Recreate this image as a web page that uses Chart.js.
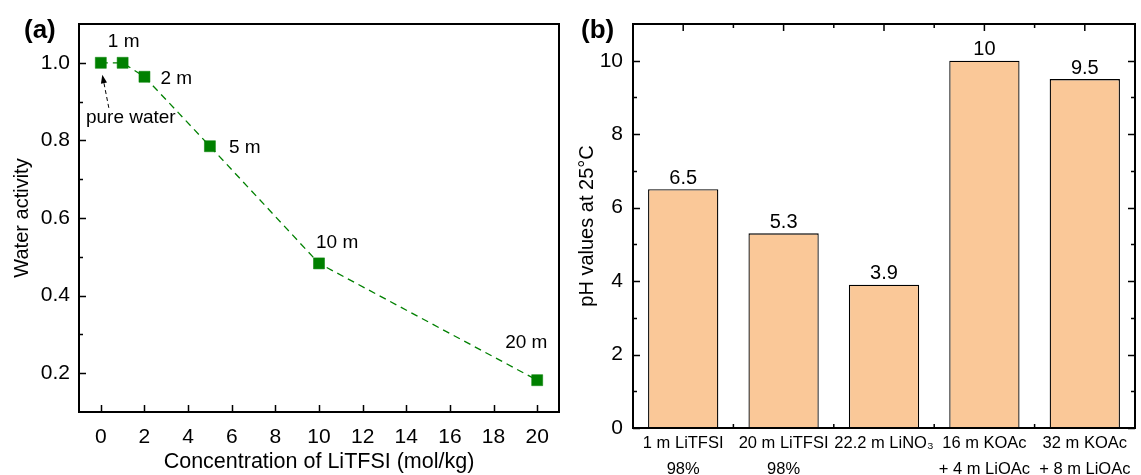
<!DOCTYPE html>
<html>
<head>
<meta charset="utf-8">
<script src="https://cdn.jsdelivr.net/npm/chart.js@4.4.1/dist/chart.umd.min.js"></script>
<style>
    html, body { margin: 0; padding: 0; background: #fff; }
    #wrap { position: relative; width: 1141px; height: 475px; overflow: hidden; }
    canvas { position: absolute; top: 0; }
    #chartA { left: 0; }
    #chartB { left: 570px; }
    .tag { position: absolute; top: 14px; line-height: 28px; font: bold 26px "Liberation Sans", Arial, sans-serif; color: #000; }
</style>
</head>
<body>
<div id="wrap">
    <canvas id="chartA" width="570" height="475"></canvas>
    <canvas id="chartB" width="571" height="475"></canvas>
    <div class="tag" style="left:24px">(a)</div>
    <div class="tag" style="left:581px">(b)</div>
</div>
<script>
const FONT = '"Liberation Sans", Arial, sans-serif';

// panel (a): water activity vs concentration
const concX = [0, 1, 2, 5, 10, 20];
const waterActivity = [1.0, 1.0, 0.964, 0.785, 0.483, 0.182];
const pointTags = ['', '1 m', '2 m', '5 m', '10 m', '20 m'];
const xTicksA = [0, 2, 4, 6, 8, 10, 12, 14, 16, 18, 20];
const yTicksA = [0.2, 0.4, 0.6, 0.8, 1.0];
const yMinorA = [0.3, 0.5, 0.7, 0.9];

// panel (b): pH of the electrolytes
const phCats = [
    ['1 m LiTFSI', '98%'],
    ['20 m LiTFSI', '98%'],
    ['22.2 m LiNO₃'],
    ['16 m KOAc', '+ 4 m LiOAc'],
    ['32 m KOAc', '+ 8 m LiOAc']
];
const phValues = [6.5, 5.3, 3.9, 10, 9.5];
const yTicksB = [0, 2, 4, 6, 8, 10];
const yMinorB = [1, 3, 5, 7, 9];

Chart.defaults.font.family = FONT;
Chart.defaults.color = '#000';

//рамка і внутрішні мітки для (a)
const frameA = {
    id: 'frameA',
    afterDatasetsDraw(chart) {
        const { ctx, chartArea: a, scales: { x, y } } = chart;
        ctx.save();
        ctx.strokeStyle = '#000';
        ctx.lineWidth = 1.5;
        ctx.beginPath();
        xTicksA.forEach(v => {
            const p = Math.round(x.getPixelForValue(v)) + 0.5;
            ctx.moveTo(p, a.bottom); ctx.lineTo(p, a.bottom - 7);
        });
        yTicksA.forEach(v => {
            const p = Math.round(y.getPixelForValue(v)) + 0.5;
            ctx.moveTo(a.left, p); ctx.lineTo(a.left + 7, p);
        });
        yMinorA.forEach(v => {
            const p = Math.round(y.getPixelForValue(v)) + 0.5;
            ctx.moveTo(a.left, p); ctx.lineTo(a.left + 4, p);
        });
        ctx.stroke();
        ctx.lineWidth = 2;
        ctx.strokeRect(a.left, a.top, a.right - a.left, a.bottom - a.top);

        //підписи біля точок
        const pts = chart.getDatasetMeta(0).data;
        const place = { 1: [1, -21, 'center'], 2: [16, 2, 'left'], 3: [19, 2, 'left'], 4: [-3, -21, 'left'], 5: [-32, -37, 'left'] };
        ctx.fillStyle = '#000';
        ctx.font = '19px ' + FONT;
        ctx.textBaseline = 'middle';
        pointTags.forEach((t, i) => {
            if (!t) return;
            const [dx, dy, al] = place[i];
            ctx.textAlign = al;
            ctx.fillText(t, pts[i].x + dx, pts[i].y + dy);
        });

        //pure water + пунктирна стрілка
        const p0 = pts[0];
        ctx.textAlign = 'center';
        ctx.fillText('pure water', p0.x + 30, p0.y + 55);
        const tx = p0.x + 1.5, ty = p0.y + 12;
        const sx = p0.x + 8, sy = p0.y + 45;
        const ang = Math.atan2(ty - sy, tx - sx);
        ctx.lineWidth = 1;
        ctx.setLineDash([4, 3]);
        ctx.beginPath();
        ctx.moveTo(sx, sy);
        ctx.lineTo(tx - 7 * Math.cos(ang), ty - 7 * Math.sin(ang));
        ctx.stroke();
        ctx.setLineDash([]);
        ctx.beginPath();
        ctx.moveTo(tx, ty);
        ctx.lineTo(tx - 9 * Math.cos(ang - 0.35), ty - 9 * Math.sin(ang - 0.35));
        ctx.lineTo(tx - 9 * Math.cos(ang + 0.35), ty - 9 * Math.sin(ang + 0.35));
        ctx.closePath();
        ctx.fill();
        ctx.restore();
    }
};

//мітки осей для (b) - під стовпчиками
const ticksB = {
    id: 'ticksB',
    beforeDatasetsDraw(chart) {
        const { ctx, chartArea: a, scales: { x, y } } = chart;
        ctx.save();
        ctx.strokeStyle = '#000';
        ctx.lineWidth = 1.5;
        ctx.beginPath();
        yTicksB.forEach(v => {
            const p = Math.round(y.getPixelForValue(v)) + 0.5;
            ctx.moveTo(a.left, p); ctx.lineTo(a.left + 7, p);
            ctx.moveTo(a.right, p); ctx.lineTo(a.right - 7, p);
        });
        yMinorB.forEach(v => {
            const p = Math.round(y.getPixelForValue(v)) + 0.5;
            ctx.moveTo(a.left, p); ctx.lineTo(a.left + 4, p);
            ctx.moveTo(a.right, p); ctx.lineTo(a.right - 4, p);
        });
        phCats.forEach((c, i) => {
            const p = x.getPixelForValue(i);
            ctx.moveTo(p, a.top); ctx.lineTo(p, a.top + 7);
            ctx.moveTo(p, a.bottom); ctx.lineTo(p, a.bottom - 7);
            if (i < phCats.length - 1) {
                const m = (p + x.getPixelForValue(i + 1)) / 2;
                ctx.moveTo(m, a.top); ctx.lineTo(m, a.top + 4);
                ctx.moveTo(m, a.bottom); ctx.lineTo(m, a.bottom - 4);
            }
        });
        ctx.stroke();
        ctx.restore();
    },
    afterDatasetsDraw(chart) {
        const { ctx, chartArea: a } = chart;
        ctx.save();
        ctx.strokeStyle = '#000';
        ctx.lineWidth = 2;
        ctx.strokeRect(a.left, a.top, a.right - a.left, a.bottom - a.top);
        //значення над стовпчиками
        ctx.fillStyle = '#000';
        ctx.font = '20px ' + FONT;
        ctx.textAlign = 'center';
        ctx.textBaseline = 'middle';
        chart.getDatasetMeta(0).data.forEach((bar, i) => {
            ctx.fillText(String(phValues[i]), bar.x, bar.y - 11);
        });
        ctx.restore();
    }
};

new Chart(document.getElementById('chartA'), {
    type: 'line',
    data: {
        datasets: [{
            data: concX.map((x, i) => ({ x, y: waterActivity[i] })),
            borderColor: '#008000',
            borderWidth: 1.3,
            borderDash: [7, 5],
            pointStyle: 'rect',
            pointRadius: 7.8,
            pointBackgroundColor: '#008000',
            pointBorderColor: '#008000',
            pointBorderWidth: 0.5,
            tension: 0
        }]
    },
    options: {
        responsive: false,
        animation: false,
        devicePixelRatio: 1,
        layout: { padding: { left: 0, right: 11, top: 24, bottom: 0 } },
        plugins: { legend: { display: false }, tooltip: { enabled: false } },
        scales: {
            x: {
                type: 'linear',
                min: -1,
                max: 21,
                afterBuildTicks: s => { s.ticks = xTicksA.map(v => ({ value: v })); },
                afterFit: s => { s.height = 63; },
                grid: { display: false, drawTicks: false },
                border: { display: false },
                ticks: { font: { size: 21 }, padding: 13, maxRotation: 0, autoSkip: false },
                title: { display: true, text: 'Concentration of LiTFSI (mol/kg)', font: { size: 21.5 }, padding: { top: 0, bottom: 0 } }
            },
            y: {
                min: 0.1,
                max: 1.1,
                afterBuildTicks: s => { s.ticks = yTicksA.map(v => ({ value: v })); },
                afterFit: s => { s.width = 79; },
                grid: { display: false, drawTicks: false },
                border: { display: false },
                ticks: { font: { size: 21 }, padding: 9, callback: v => v.toFixed(1) },
                title: { display: true, text: 'Water activity', font: { size: 20 }, padding: { top: 10, bottom: 0 } }
            }
        }
    },
    plugins: [frameA]
});

new Chart(document.getElementById('chartB'), {
    type: 'bar',
    data: {
        labels: phCats,
        datasets: [{
            data: phValues,
            backgroundColor: '#FAC898',
            borderColor: '#000',
            borderWidth: 1.3,
            barPercentage: 0.7,
            categoryPercentage: 1.0
        }]
    },
    options: {
        responsive: false,
        animation: false,
        devicePixelRatio: 1,
        layout: { padding: { left: 0, right: 6, top: 24, bottom: 0 } },
        plugins: { legend: { display: false }, tooltip: { enabled: false } },
        scales: {
            x: {
                afterFit: s => { s.height = 47; },
                grid: { display: false, drawTicks: false },
                border: { display: false },
                ticks: { font: { size: 16.5, lineHeight: 1.55 }, padding: 3, maxRotation: 0, autoSkip: false }
            },
            y: {
                min: 0,
                max: 11,
                afterBuildTicks: s => { s.ticks = yTicksB.map(v => ({ value: v })); },
                afterFit: s => { s.width = 63; },
                grid: { display: false, drawTicks: false },
                border: { display: false },
                ticks: { font: { size: 21 }, padding: 10 },
                title: { display: true, text: 'pH values at 25°C', font: { size: 20 }, padding: { top: 5, bottom: 0 } }
            }
        }
    },
    plugins: [ticksB]
});
</script>
</body>
</html>
